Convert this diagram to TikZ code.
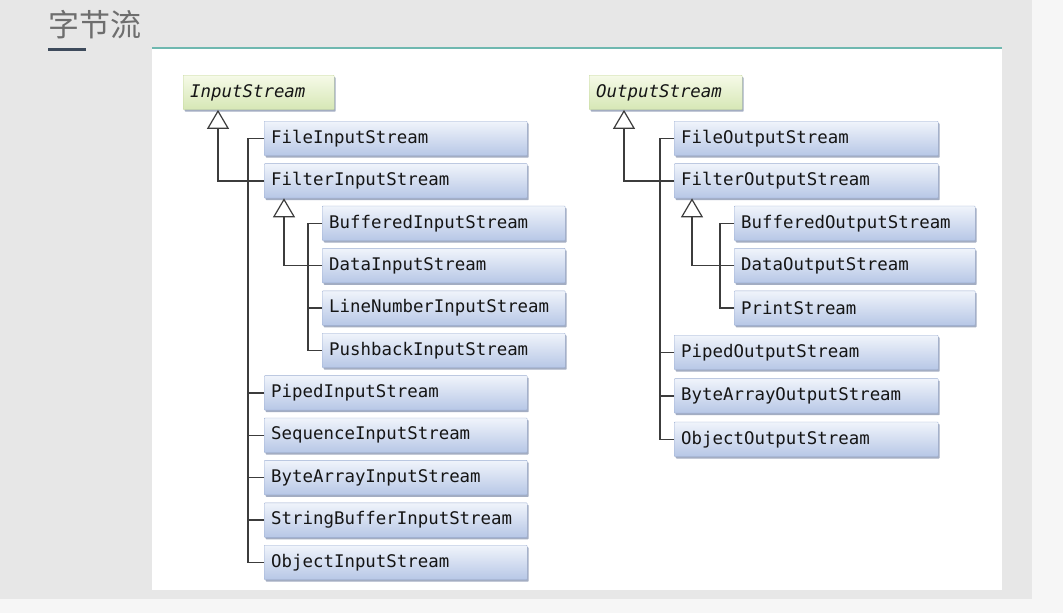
\documentclass[tikz,border=0pt]{standalone}
\usepackage{fontspec}
\setmonofont{DejaVu Sans Mono}
\newfontfamily\cjk{Noto Sans CJK SC}
\usepackage{xcolor}
\usetikzlibrary{arrows.meta,positioning,shadows}
\definecolor{slidebg}{HTML}{E7E7E7}
\definecolor{slideedge}{HTML}{F6F6F6}
\definecolor{tealline}{HTML}{6FB8B0}
\definecolor{titlegray}{HTML}{6E6E6E}
\definecolor{titlebar}{HTML}{3E4B5C}
\definecolor{clsedge}{HTML}{9DAFD3}
\definecolor{clstop}{HTML}{F0F4FB}
\definecolor{clsbot}{HTML}{B7C7E6}
\definecolor{shade}{HTML}{8C99B3}
\definecolor{rootedge}{HTML}{C3D79A}
\definecolor{roottop}{HTML}{F6FAE8}
\definecolor{rootbot}{HTML}{D6E7B5}
\definecolor{wire}{HTML}{3C3C3C}
\definecolor{ink}{HTML}{151515}
\begin{document}
\begin{tikzpicture}[x=1pt, y=-1pt,
  node distance=7.5pt,
  cls/.style={draw=clsedge, top color=clstop, bottom color=clsbot, rounded corners=0.8pt,
              minimum height=34.5pt, inner xsep=7pt, text width=#1, text=ink,
              font=\ttfamily\fontsize{17.4}{17.4}\selectfont,
              drop shadow={shadow xshift=1.5pt, shadow yshift=-2pt, fill=shade, opacity=0.8}},
  root/.style={cls=#1, draw=rootedge, top color=roottop, bottom color=rootbot,
               font=\ttfamily\itshape\fontsize{17.4}{17.4}\selectfont},
  link/.style={draw=wire, line width=1.4pt},
  inh/.style={link, -{Triangle[open, length=19pt, width=22pt, line width=1.2pt]}},
]
\useasboundingbox (0,0) rectangle (1063,613);
% slide background
\fill[slidebg] (0,0) rectangle (1063,613);
\fill[slideedge] (1032,0) rectangle (1063,613);
\fill[slideedge] (0,599) rectangle (1063,613);
\fill[white] (152,48) rectangle (1002,590);
\draw[tealline, line width=2pt] (152,48) -- (1002,48);
\node[anchor=west, font=\cjk\fontsize{31}{31}\selectfont, text=titlegray, inner sep=0pt]
  (title) at (48,25) {字节流};
\draw[titlebar, line width=3pt] (48,49) -- (86,49);

% input side
\node[root=137, anchor=north west] (in) at (183,75) {InputStream};
\node[cls=249, anchor=north west] (filein) at (264,121) {FileInputStream};
\node[cls=249, below=of filein.south west, anchor=north west] (filtin) {FilterInputStream};
\node[cls=229, below=of filtin.south west, anchor=north west, xshift=58pt] (bufin)
  {BufferedInputStream};
\node[cls=229, below=of bufin.south west, anchor=north west] (datain) {DataInputStream};
\node[cls=229, below=of datain.south west, anchor=north west] (linein) {LineNumberInputStream};
\node[cls=229, below=of linein.south west, anchor=north west] (pushin) {PushbackInputStream};
\node[cls=249, below=of pushin.south west, anchor=north west, xshift=-58pt] (pipein)
  {PipedInputStream};
\node[cls=249, below=of pipein.south west, anchor=north west] (seqin) {SequenceInputStream};
\node[cls=249, below=of seqin.south west, anchor=north west] (bytein) {ByteArrayInputStream};
\node[cls=249, below=of bytein.south west, anchor=north west] (strin) {StringBufferInputStream};
\node[cls=249, below=of strin.south west, anchor=north west] (objin) {ObjectInputStream};

\draw[inh] (filtin.west) -| ([xshift=35pt]in.south west);
\draw[link] (filein.west) -- ++(-16,0) |- (objin.west);
\foreach \c in {filtin,pipein,seqin,bytein,strin} \draw[link] (\c.west) -- ++(-16,0);
\draw[inh] (datain.west) -| ([xshift=20pt]filtin.south west);
\draw[link] (bufin.west) -- ++(-14,0) |- (pushin.west);
\draw[link] (linein.west) -- ++(-14,0);

% output side
\node[root=139, anchor=north west] (out) at (589,75) {OutputStream};
\node[cls=250, anchor=north west] (fileout) at (674,121) {FileOutputStream};
\node[cls=250, below=of fileout.south west, anchor=north west] (filtout) {FilterOutputStream};
\node[cls=227, below=of filtout.south west, anchor=north west, xshift=60pt] (bufout)
  {BufferedOutputStream};
\node[cls=227, below=of bufout.south west, anchor=north west] (dataout) {DataOutputStream};
\node[cls=227, below=of dataout.south west, anchor=north west] (printout) {PrintStream};
\node[cls=250, below=of printout.south west, anchor=north west, xshift=-60pt, yshift=-2pt]
  (pipeout) {PipedOutputStream};
\node[cls=250, below=of pipeout.south west, anchor=north west, yshift=-1pt] (byteout)
  {ByteArrayOutputStream};
\node[cls=250, below=of byteout.south west, anchor=north west, yshift=-1pt] (objout)
  {ObjectOutputStream};

\draw[inh] (filtout.west) -| ([xshift=35pt]out.south west);
\draw[link] (fileout.west) -- ++(-14,0) |- (objout.west);
\foreach \c in {filtout,pipeout,byteout} \draw[link] (\c.west) -- ++(-14,0);
\draw[inh] (dataout.west) -| ([xshift=18pt]filtout.south west);
\draw[link] (bufout.west) -- ++(-14,0) |- (printout.west);
\end{tikzpicture}
\end{document}
